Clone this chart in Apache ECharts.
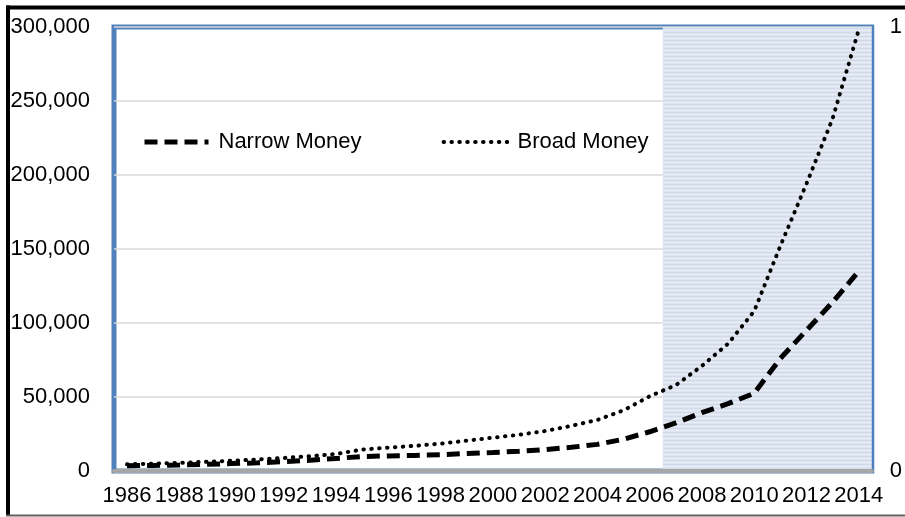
<!DOCTYPE html>
<html>
<head>
<meta charset="utf-8">
<script src="https://cdn.jsdelivr.net/npm/echarts@6/dist/echarts.min.js"></script>
<style>
html,body{margin:0;padding:0;background:#fff;}
#chart{width:905px;height:517px;}
</style>
</head>
<body>
<div id="chart"></div>
<script>
const years = ['1986','1987','1988','1989','1990','1991','1992','1993','1994','1995','1996','1997','1998','1999','2000','2001','2002','2003','2004','2005','2006','2007','2008','2009','2010','2011','2012','2013','2014'];
const narrowMoney = [3500,3800,4100,4500,5000,5500,6300,7200,8500,9800,10200,10500,11000,11800,12500,13300,14500,16000,18000,21500,26500,32500,39500,45500,52500,76000,95000,114000,135000];
const broadMoney = [4500,5000,5500,6200,6900,7800,8800,10000,11500,14500,15800,17000,18500,20500,22500,24500,27000,30500,34500,41000,50500,58000,71000,86000,108000,152000,194000,238000,298000];
const seriesNames = ['Narrow Money','Broad Money'];
const shadeYears = ['2007','2014'];
const leftTicks = [0,50000,100000,150000,200000,250000,300000];
const rightTicks = [0,1];

const FONT = '"Liberation Sans", Arial, sans-serif';

const pc = document.createElement('canvas');
pc.width = 4; pc.height = 4;
const pctx = pc.getContext('2d');
const rows = ['#d2dbe9','#dde4ef','#e9eef6','#dde4ef'];
rows.forEach((c,i)=>{ pctx.fillStyle = c; pctx.fillRect(0,i,4,1); });

const chart = echarts.init(document.getElementById('chart'), null, {renderer:'canvas'});
const shadeStart = years.indexOf(shadeYears[0]);
const shadeEnd = years.indexOf(shadeYears[1]) + 1;

const narrowStyle = {color:'#000',width:5,type:[13,7],cap:'butt'};
const broadStyle = {color:'#000',width:4,type:[0.5,7.4],cap:'round'};

chart.setOption({
  animation:false,
  backgroundColor:'#fff',
  textStyle:{fontFamily:FONT},
  grid:{left:114,right:29,top:27,bottom:46,show:true,backgroundColor:'#fff',borderColor:'#4f81bd',borderWidth:5},
  legend:{
    data:[
      {name:seriesNames[0], itemStyle:{opacity:0}, lineStyle:narrowStyle},
      {name:seriesNames[1], itemStyle:{opacity:0}, lineStyle:broadStyle}
    ],
    left:137, top:126,
    itemWidth:64, itemHeight:14, itemGap:80,
    textStyle:{fontSize:22,color:'#000',fontFamily:FONT,padding:[0,0,0,5]},
    selectedMode:false
  },
  xAxis:[{
    type:'category', data:years, boundaryGap:true,
    axisLine:{show:true,lineStyle:{color:'#a6a6a6',width:4}},
    axisTick:{show:false},
    axisLabel:{interval:1,fontSize:22,color:'#000',margin:14,fontFamily:FONT},
    splitLine:{show:false}, z:5
  },{
    type:'value', min:0, max:years.length, show:false
  }],
  yAxis:[{
    type:'value', min:leftTicks[0], max:leftTicks[leftTicks.length-1], interval:leftTicks[1]-leftTicks[0],
    axisLine:{show:false}, axisTick:{show:false},
    axisLabel:{fontSize:22,color:'#000',margin:24,fontFamily:FONT,
      formatter:v=>v.toLocaleString('en-US')},
    splitLine:{show:true,lineStyle:{color:'#d9d9d9',width:1.5}}
  },{
    type:'value', position:'right', min:rightTicks[0], max:rightTicks[1], interval:1,
    axisLine:{show:false}, axisTick:{show:false},
    axisLabel:{fontSize:22,color:'#000',margin:18,fontFamily:FONT},
    splitLine:{show:false}
  }],
  series:[
    {
      name:'shade', type:'line', xAxisIndex:1, yAxisIndex:0, data:[], z:1, silent:true,
      markArea:{silent:true, itemStyle:{color:{image:pc,repeat:'repeat'}},
        data:[[{xAxis:shadeStart},{xAxis:shadeEnd}]]}
    },
    {
      name:seriesNames[0], type:'line', data:narrowMoney, symbol:'none', z:3,
      itemStyle:{color:'#000'}, lineStyle:narrowStyle
    },
    {
      name:seriesNames[1], type:'line', data:broadMoney, symbol:'none', z:3,
      itemStyle:{color:'#000'}, lineStyle:broadStyle
    }
  ],
  graphic:[
    {type:'line', shape:{x1:6,y1:7.5,x2:905,y2:7.5}, style:{stroke:'#000',lineWidth:4}, z:100},
    {type:'line', shape:{x1:8,y1:5.5,x2:8,y2:516}, style:{stroke:'#000',lineWidth:4}, z:100},
    {type:'line', shape:{x1:6,y1:515.5,x2:905,y2:515.5}, style:{stroke:'#606060',lineWidth:2}, z:100}
  ]
});
</script>
</body>
</html>
